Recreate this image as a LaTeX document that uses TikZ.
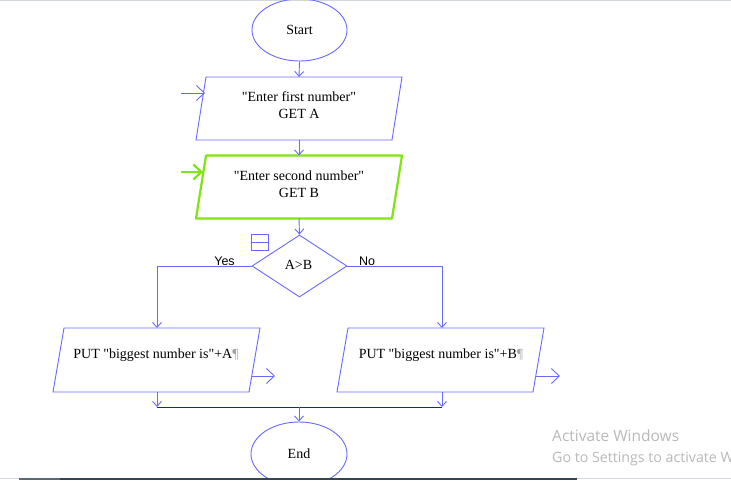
\documentclass[tikz,border=0pt]{standalone}
\usepackage{fontspec}
\setmainfont{Liberation Serif}
\newfontfamily\arialf{Liberation Sans}
\newfontfamily\segoef{Open Sans}
\usetikzlibrary{shapes.geometric,arrows.meta,calc}
\definecolor{flowblue}{RGB}{105,105,255}
\definecolor{deepblue}{RGB}{20,20,255}
\definecolor{limeg}{RGB}{128,228,20}
\definecolor{pilcrow}{RGB}{165,165,165}
\definecolor{wmgray}{RGB}{185,185,185}
\definecolor{barline}{RGB}{52,70,80}
\definecolor{barlight}{RGB}{90,105,115}
\definecolor{edgegray}{RGB}{210,215,222}
\newcommand\slantbox[3][flowblue]{%
  \draw[#1] ($(#2.north west)+(#3,0)$) -- (#2.north east) --
    ($(#2.south east)+(-#3,0)$) -- (#2.south west) -- cycle;}
\begin{document}
\begin{tikzpicture}[x=1pt,y=-1pt,
  every node/.style={font=\fontsize{14}{17}\selectfont},
  term/.style={ellipse,draw=flowblue,line width=0.9pt,minimum width=95pt,minimum height=62pt,inner sep=0pt},
  iobox/.style={rectangle,minimum width=206pt,minimum height=63pt,inner sep=0pt,outer sep=0pt},
  outbox/.style={iobox,minimum width=207pt,minimum height=64pt},
  blueline/.style={draw=flowblue,line width=0.9pt,line join=miter},
  greenline/.style={draw=limeg,line width=2.2pt,line join=round},
  decision/.style={diamond,draw=flowblue,line width=0.9pt,minimum width=95pt,minimum height=62pt,inner sep=0pt},
  txt/.style={inner sep=0pt,align=center},
  flow/.style={draw=flowblue,line width=0.9pt,-{Straight Barb[length=5pt,width=9pt]}},
  ioarrow/.style={draw=flowblue,line width=0.9pt,-{Straight Barb[length=8pt,width=15pt]}},
  greenarrow/.style={draw=limeg,line width=2.2pt,-{Straight Barb[length=8pt,width=15pt]}},
  branchlbl/.style={inner sep=0pt,font=\arialf\fontsize{12.5}{14}\selectfont},
]
\useasboundingbox (0,0) rectangle (731,491);
\clip (0,0) rectangle (731,491);
\fill[white] (0,0) rectangle (731,491);
\draw[edgegray,line width=1.5pt] (0,0.5) -- (731,0.5);

% nodes
\node[term] (start) at (299.5,30) {Start};
\node[iobox] (in1) at (299,108.5) {};
\slantbox[blueline]{in1}{10}
\node[txt] (in1t) at (299,105) {\textquotedbl Enter first number\textquotedbl\\GET A};
\node[iobox] (in2) at (299,187) {};
\slantbox[greenline]{in2}{10}
\node[txt] (in2t) at (299,184) {\textquotedbl Enter second number\textquotedbl\\GET B};
\node[decision] (dec) at (299.5,266) {};
\node[txt] (dect) at (298.5,265) {A>B};
\node[draw=flowblue,line width=0.9pt,minimum width=17pt,minimum height=16pt,inner sep=0pt] (icon) at (259.5,242) {};
\draw[flowblue,line width=0.9pt] (icon.west) -- (icon.east);
\node[outbox] (out1) at (156.5,360) {};
\slantbox[blueline]{out1}{11}
\node[txt] (out1t) at (156,355) {PUT \textquotedbl biggest number is\textquotedbl+A\textcolor{pilcrow}{¶}};
\node[outbox] (out2) at (440.5,360) {};
\slantbox[blueline]{out2}{11}
\node[txt] (out2t) at (441,355) {PUT \textquotedbl biggest number is\textquotedbl+B\textcolor{pilcrow}{¶}};
\node[term,minimum width=96pt,minimum height=64pt] (end) at (299,454) {};
\node[txt] (endt) at (299,454) {End};
\node[branchlbl] (yes) at (224.5,261.5) {Yes};
\node[branchlbl] (no) at (367,261.5) {No};

% coordinates
\coordinate (ia1) at (181,93);
\coordinate (ib1) at (205,93);
\coordinate (ia2) at (181,172);
\coordinate (ib2) at (203,172);
\coordinate (oa1) at (252,376);
\coordinate (ob1) at (275,376);
\coordinate (oa2) at (536,376);
\coordinate (ob2) at (560,376);
\coordinate (j1) at (157,407);
\coordinate (j2) at (442,407);
\coordinate (jm) at (299,407);

% connectors
\draw[flow] (start.south) -- (in1.north);
\draw[flow] (in1.south) -- (in2.north);
\draw[flow] (in2.south) -- (dec.north);
\draw[flow] (dec.west) -| (j1 |- out1.north);
\draw[flow] (dec.east) -| (j2 |- out2.north);
\draw[flow] (j1 |- out1.south) -- (j1);
\draw[flow] (j2 |- out2.south) -- (j2);
\draw[deepblue,line width=0.9pt] (j1) -- (j2);
\draw[flow] (jm) -- (end.north);
\draw[ioarrow] (ia1) -- (ib1);
\draw[greenarrow] (ia2) -- (ib2);
\draw[ioarrow] (oa1) -- (ob1);
\draw[ioarrow] (oa2) -- (ob2);

% bottom screen edge
\fill[white] (0,479.6) rectangle (731,491);
\draw[edgegray,line width=1pt] (0,478.8) -- (19,478.8);
\draw[barline,line width=2pt] (19,478.8) -- (577,478.8);
\draw[barlight,line width=2pt] (19,478.8) -- (60,478.8);
\draw[edgegray,line width=1pt] (577,478.8) -- (731,478.8);

% watermark
\node[anchor=west,inner sep=0pt,text=wmgray,font=\segoef\fontsize{15.5}{18}\selectfont] (wm1) at (552,436) {Activate Windows};
\node[anchor=west,inner sep=0pt,text=wmgray,font=\segoef\fontsize{14.2}{16}\selectfont] (wm2) at (552,459) {Go to Settings to activate Windows.};
\end{tikzpicture}
\end{document}
